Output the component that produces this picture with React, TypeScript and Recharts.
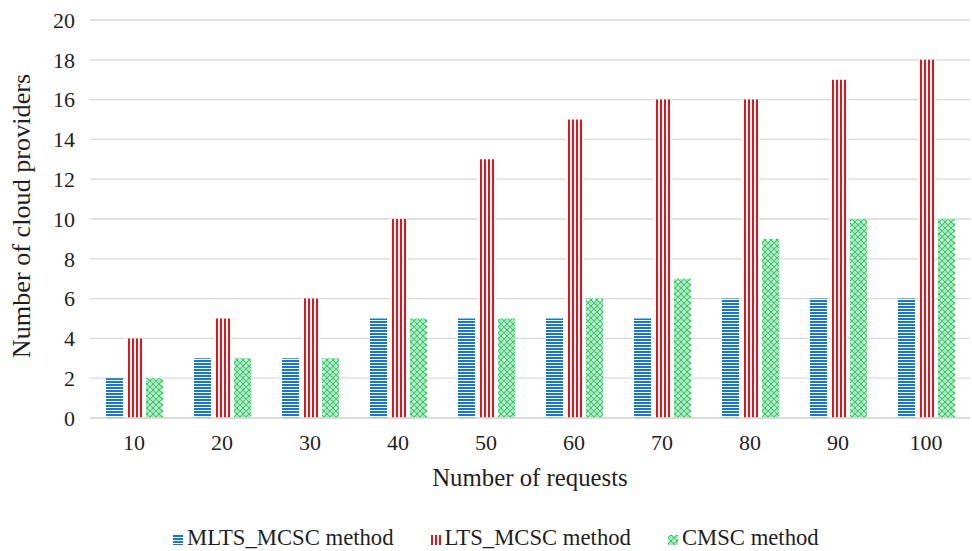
import { BarChart, Bar, XAxis, YAxis, CartesianGrid, Label } from 'recharts';

const requests = ['10', '20', '30', '40', '50', '60', '70', '80', '90', '100'];
const mltsMcsc = [2, 3, 3, 5, 5, 5, 5, 6, 6, 6];
const ltsMcsc = [4, 5, 6, 10, 13, 15, 16, 16, 17, 18];
const cmsc = [2, 3, 3, 5, 5, 6, 7, 9, 10, 10];
const yTicks = [0, 2, 4, 6, 8, 10, 12, 14, 16, 18, 20];

const seriesNames = ['MLTS_MCSC method', 'LTS_MCSC method', 'CMSC method'];

const BLUE = '#1a75cf';
const RED = '#e0161e';
const GREEN = '#2fcb62';
const FONT = '"Liberation Serif", "Times New Roman", serif';
const TEXT = '#1f1f1f';

const data = requests.map((r, i) => ({
  label: r,
  mlts: mltsMcsc[i],
  lts: ltsMcsc[i],
  cmsc: cmsc[i],
}));

function Patterns() {
  return (
    <defs>
      <pattern id="pat-blue" patternUnits="userSpaceOnUse" width="4" height="3">
        <rect width="4" height="3" fill="#ffffff" />
        <rect width="4" height="2" fill={BLUE} />
      </pattern>
      <pattern id="pat-red" patternUnits="userSpaceOnUse" width="4" height="4">
        <rect width="4" height="4" fill="#ffffff" />
        <rect width="2" height="4" fill={RED} />
      </pattern>
      <pattern id="pat-green" patternUnits="userSpaceOnUse" width="6" height="6">
        <rect width="6" height="6" fill="#ffffff" />
        <path d="M0 3 L3 0 L6 3 L3 6 Z" fill="none" stroke={GREEN} strokeWidth="1.3" />
        <circle cx="3" cy="3" r="0.8" fill={GREEN} />
      </pattern>
    </defs>
  );
}

const legendFills = ['url(#pat-blue)', 'url(#pat-red)', 'url(#pat-green)'];

export default function App() {
  return (
    <div style={{ position: 'absolute', left: 0, top: 0, width: 972, height: 551, background: '#fff', overflow: 'hidden' }}>
      <BarChart
        width={972}
        height={551}
        data={data}
        margin={{ top: 20, right: 2, left: 0, bottom: 0 }}
        barGap={3}
      >
        <Patterns />
        <CartesianGrid vertical={false} stroke="#d9d9d9" strokeWidth={1.3} />
        <XAxis
          dataKey="label"
          interval={0}
          height={133}
          tickLine={false}
          tickMargin={10}
          axisLine={{ stroke: '#d9d9d9', strokeWidth: 1.3 }}
          tick={{ fill: TEXT, fontSize: 22, fontFamily: FONT }}
        >
          <Label
            content={() => (
              <text x={530} y={486} textAnchor="middle" fill={TEXT} fontSize={24.8} fontFamily={FONT}>
                Number of requests
              </text>
            )}
          />
        </XAxis>
        <YAxis
          width={90}
          domain={[0, 20]}
          ticks={yTicks}
          axisLine={false}
          tickLine={false}
          tickMargin={9}
          tick={{ fill: TEXT, fontSize: 22, fontFamily: FONT }}
        >
          <Label
            content={() => (
              <text
                x={30}
                y={216}
                transform="rotate(-90 30 216)"
                textAnchor="middle"
                fill={TEXT}
                fontSize={26.2}
                fontFamily={FONT}
              >
                Number of cloud providers
              </text>
            )}
          />
        </YAxis>
        <Bar dataKey="mlts" name={seriesNames[0]} fill="url(#pat-blue)" barSize={17} isAnimationActive={false} />
        <Bar dataKey="lts" name={seriesNames[1]} fill="url(#pat-red)" barSize={17} isAnimationActive={false} />
        <Bar dataKey="cmsc" name={seriesNames[2]} fill="url(#pat-green)" barSize={17} isAnimationActive={false} />
      </BarChart>
      <div
        style={{
          position: 'absolute',
          left: 173,
          top: 527,
          display: 'flex',
          alignItems: 'center',
          gap: 37,
          fontFamily: FONT,
          fontSize: 22.7,
          lineHeight: '22px',
          color: TEXT,
          whiteSpace: 'nowrap',
        }}
      >
        {seriesNames.map((name, i) => (
          <div key={name} style={{ display: 'flex', alignItems: 'center', gap: 4 }}>
            <svg width={10} height={10} style={{ marginTop: 4 }}>
              <rect width={10} height={10} fill={legendFills[i]} />
            </svg>
            <span>{name}</span>
          </div>
        ))}
      </div>
    </div>
  );
}
